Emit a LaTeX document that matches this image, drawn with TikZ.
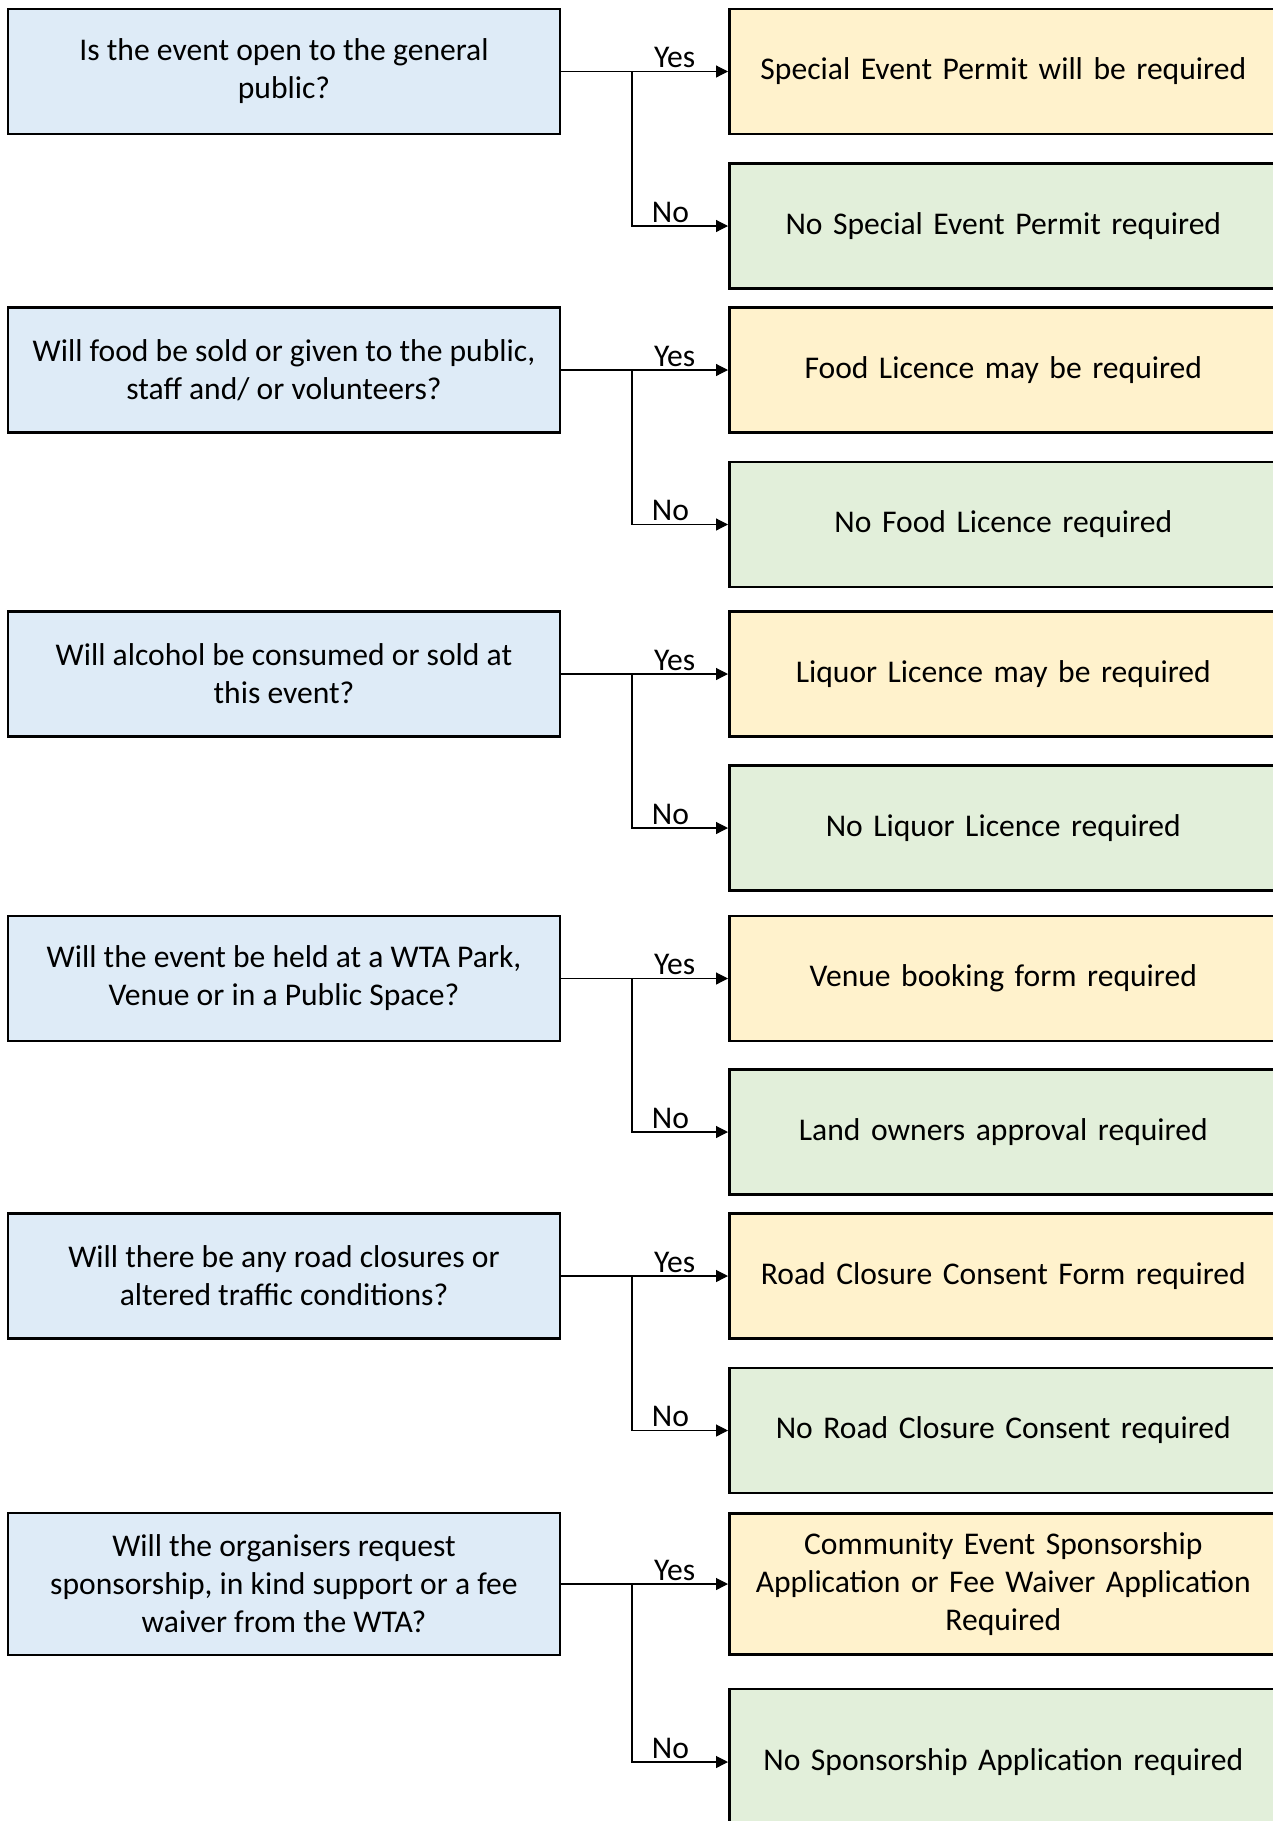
\documentclass[tikz,border=0pt]{standalone}
\usepackage{fontspec}
\setmainfont{Carlito}
\usetikzlibrary{arrows.meta}
\definecolor{askblue}{HTML}{DEEBF7}
\definecolor{yesyellow}{HTML}{FFF2CC}
\definecolor{nogreen}{HTML}{E2EFDA}
\begin{document}
\begin{tikzpicture}[x=0.5pt, y=-0.5pt, >={Triangle[length=6pt,width=6pt]},
        every node/.style={font=\fontsize{15.8}{19}\selectfont},
        question/.style={draw, line width=1.3pt, fill=askblue, minimum width=276pt, minimum height=62.5pt, align=center, inner sep=0pt},
        yesbox/.style={draw, line width=1.3pt, fill=yesyellow, anchor=west, minimum width=274pt, minimum height=62.5pt, align=center, inner sep=0pt, text width=268pt},
        nobox/.style={draw, line width=1.3pt, fill=nogreen, anchor=west, minimum width=274pt, minimum height=62.5pt, align=center, inner sep=0pt, text width=268pt},
        answer/.style={anchor=south, inner sep=1.5pt},
        link/.style={line width=0.6pt}]
    \useasboundingbox (0,0) rectangle (1273,1821);
    \clip (0,0) rectangle (1273,1821);
    % questions
    \node[question] (open) at (284,71.5) {Is the event open to the general\\public?};
    \node[question] (food) at (284,370) {Will food be sold or given to the public,\\staff and/ or volunteers?};
    \node[question] (alcohol) at (284,674) {Will alcohol be consumed or sold at\\this event?};
    \node[question] (venue) at (284,978.5) {Will the event be held at a WTA Park,\\Venue or in a Public Space?};
    \node[question] (road) at (284,1276) {Will there be any road closures or\\altered traffic conditions?};
    \node[question, minimum height=71pt] (sponsor) at (284,1584) {Will the organisers request\\sponsorship, in kind support or a fee\\waiver from the WTA?};
    % yes answers
    \node[yesbox] (openY) at (728,71.5) {Special Event Permit will be required};
    \node[yesbox] (foodY) at (728,370) {Food Licence may be required};
    \node[yesbox] (alcoholY) at (728,674) {Liquor Licence may be required};
    \node[yesbox] (venueY) at (728,978.5) {Venue booking form required};
    \node[yesbox] (roadY) at (728,1276) {Road Closure Consent Form required};
    \node[yesbox, minimum height=70.5pt] (sponsorY) at (728,1584) {Community Event Sponsorship\\Application or Fee Waiver Application\\Required};
    % no answers
    \node[nobox] (openN) at (728,226) {No Special Event Permit required};
    \node[nobox] (foodN) at (728,524.5) {No Food Licence required};
    \node[nobox] (alcoholN) at (728,828) {No Liquor Licence required};
    \node[nobox] (venueN) at (728,1132) {Land owners approval required};
    \node[nobox] (roadN) at (728,1430.5) {No Road Closure Consent required};
    \node[nobox, minimum height=73pt] (sponsorN) at (728,1762) {No Sponsorship Application required};
    % branch points
    \coordinate (openB) at (632,71.5);
    \coordinate (foodB) at (632,370);
    \coordinate (alcoholB) at (632,674);
    \coordinate (venueB) at (632,978.5);
    \coordinate (roadB) at (632,1276);
    \coordinate (sponsorB) at (632,1584);
    % connectors
    \draw[link, ->] (open.east) -- (openY.west) node[answer, pos=0.68] {Yes};
    \draw[link, ->] (openB) |- (openN.west) node[answer, pos=0.7] {No};
    \draw[link, ->] (food.east) -- (foodY.west) node[answer, pos=0.68] {Yes};
    \draw[link, ->] (foodB) |- (foodN.west) node[answer, pos=0.7] {No};
    \draw[link, ->] (alcohol.east) -- (alcoholY.west) node[answer, pos=0.68] {Yes};
    \draw[link, ->] (alcoholB) |- (alcoholN.west) node[answer, pos=0.7] {No};
    \draw[link, ->] (venue.east) -- (venueY.west) node[answer, pos=0.68] {Yes};
    \draw[link, ->] (venueB) |- (venueN.west) node[answer, pos=0.7] {No};
    \draw[link, ->] (road.east) -- (roadY.west) node[answer, pos=0.68] {Yes};
    \draw[link, ->] (roadB) |- (roadN.west) node[answer, pos=0.7] {No};
    \draw[link, ->] (sponsor.east) -- (sponsorY.west) node[answer, pos=0.68] {Yes};
    \draw[link, ->] (sponsorB) |- (sponsorN.west) node[answer, pos=0.7] {No};
\end{tikzpicture}
\end{document}
